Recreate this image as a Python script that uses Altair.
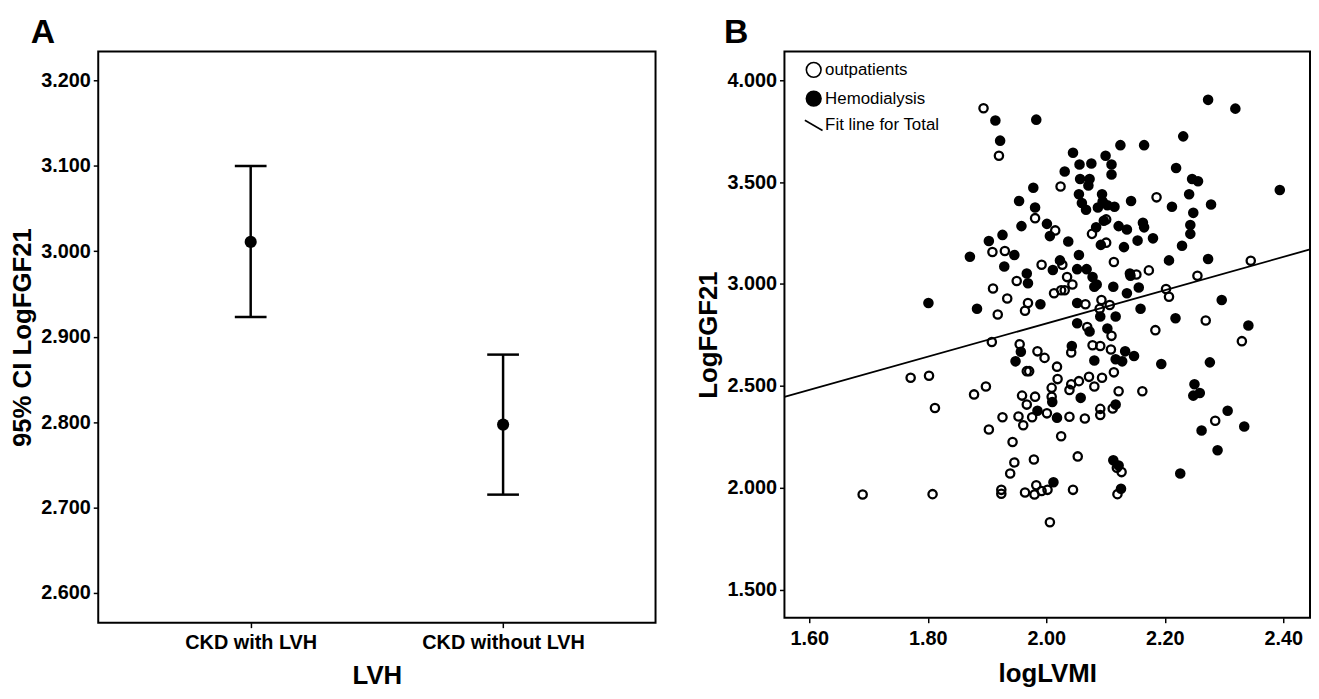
import altair as alt
import pandas as pd

# ---------------- Panel A data ----------------
groups = ["CKD with LVH", "CKD without LVH"]
means = [3.011, 2.797]
ci_low = [2.923, 2.715]
ci_high = [3.100, 2.879]

# ---------------- Panel B data ----------------
out_x = [1.894, 1.920, 2.024, 2.186, 1.981, 2.015, 1.909, 1.930, 2.101, 2.077,
         2.101, 2.114, 2.173, 2.152, 2.255, 2.345, 1.992, 2.027, 2.035, 1.950,
         1.910, 1.934, 2.044, 2.013, 2.025, 2.031, 2.202, 2.207, 1.969, 1.964,
         1.918, 2.066, 2.093, 2.107, 2.090, 2.269, 1.908, 2.069, 2.110, 1.955,
         1.985, 1.997, 2.078, 2.091, 2.109, 2.042, 2.330, 2.184, 1.967, 1.971,
         2.018, 1.771, 1.802, 1.898, 1.878, 2.019, 2.009, 2.072, 2.094, 2.055,
         2.042, 2.039, 2.081, 2.114, 2.122, 2.162, 1.959, 1.981, 1.967, 2.009,
         1.812, 1.926, 1.953, 1.976, 1.961, 2.001, 2.039, 2.065, 2.091, 2.091,
         2.112, 2.285, 1.903, 1.943, 2.025, 2.053, 1.979, 1.946, 1.939, 2.119,
         2.127, 1.690, 1.808, 1.924, 1.924, 1.964, 1.983, 1.980, 1.992, 2.002,
         2.045, 2.120, 2.006]
out_y = [3.862, 3.629, 3.478, 3.425, 3.323, 3.263, 3.157, 3.162, 3.317, 3.246,
         3.203, 3.108, 3.067, 3.047, 3.041, 3.114, 3.095, 3.095, 3.034, 3.015,
         2.978, 2.929, 2.998, 2.955, 2.970, 2.970, 2.976, 2.938, 2.907, 2.869,
         2.851, 2.901, 2.922, 2.897, 2.879, 2.821, 2.716, 2.789, 2.746, 2.705,
         2.670, 2.638, 2.700, 2.696, 2.679, 2.664, 2.720, 2.774, 2.573, 2.573,
         2.595, 2.541, 2.550, 2.498, 2.459, 2.534, 2.491, 2.545, 2.541, 2.524,
         2.509, 2.481, 2.498, 2.567, 2.474, 2.474, 2.453, 2.448, 2.409, 2.448,
         2.392, 2.347, 2.351, 2.347, 2.308, 2.366, 2.349, 2.341, 2.388, 2.358,
         2.390, 2.330, 2.287, 2.226, 2.254, 2.155, 2.140, 2.125, 2.071, 2.099,
         2.078, 1.968, 1.970, 1.991, 1.972, 1.978, 2.013, 1.968, 1.985, 1.991,
         1.991, 1.970, 1.832]

hd_x = [1.914, 1.983, 1.922, 2.273, 2.319, 2.231, 2.125, 2.165, 2.045, 2.076,
        2.100, 2.031, 2.056, 2.110, 2.110, 2.219, 2.057, 2.073, 2.071, 1.978,
        1.954, 1.981, 2.055, 2.060, 2.094, 2.067, 2.087, 2.103, 2.115, 2.095,
        2.143, 2.212, 2.241, 2.246, 2.256, 2.248, 2.278, 2.394, 1.958, 2.001,
        2.006, 2.037, 2.084, 2.097, 2.092, 2.122, 2.136, 2.131, 2.154, 2.180,
        2.163, 2.165, 2.243, 2.243, 2.229, 2.273, 2.207, 1.903, 1.926, 1.871,
        1.946, 1.929, 1.967, 1.969, 2.023, 2.011, 2.055, 2.052, 2.068, 2.078,
        2.085, 2.113, 2.141, 2.142, 2.156, 2.136, 2.081, 1.801, 1.883, 1.990,
        2.052, 2.091, 2.117, 2.159, 2.218, 2.296, 2.341, 2.052, 2.073, 2.103,
        2.043, 1.957, 1.948, 2.081, 2.117, 2.128, 2.133, 2.148, 2.194, 2.276,
        2.250, 2.248, 2.259, 2.010, 2.058, 1.985, 2.018, 2.117, 2.262, 2.306,
        2.334, 2.289, 2.226, 2.113, 2.122, 2.012, 2.126]
hd_y = [3.802, 3.806, 3.703, 3.903, 3.860, 3.724, 3.681, 3.681, 3.644, 3.591,
        3.629, 3.552, 3.586, 3.586, 3.537, 3.569, 3.515, 3.515, 3.483, 3.472,
        3.407, 3.375, 3.440, 3.397, 3.440, 3.364, 3.375, 3.386, 3.379, 3.405,
        3.407, 3.379, 3.440, 3.515, 3.504, 3.349, 3.390, 3.461, 3.284, 3.295,
        3.235, 3.209, 3.278, 3.310, 3.192, 3.284, 3.267, 3.181, 3.213, 3.224,
        3.300, 3.278, 3.289, 3.246, 3.188, 3.123, 3.116, 3.211, 3.241, 3.134,
        3.142, 3.086, 3.052, 3.004, 3.116, 3.069, 3.142, 3.073, 3.073, 3.034,
        2.998, 2.987, 3.052, 3.041, 2.983, 2.955, 2.987, 2.907, 2.879, 2.901,
        2.907, 2.841, 2.841, 2.879, 2.832, 2.922, 2.797, 2.808, 2.767, 2.782,
        2.696, 2.668, 2.621, 2.625, 2.631, 2.621, 2.670, 2.647, 2.608, 2.616,
        2.509, 2.453, 2.466, 2.422, 2.442, 2.379, 2.345, 2.409, 2.282, 2.379,
        2.302, 2.185, 2.071, 2.136, 2.110, 2.028, 1.996]

series_names = ["outpatients", "Hemodialysis", "Fit line for Total"]

FONT = "Liberation Sans"

# ---------------- Panel A ----------------
df_a = pd.DataFrame({"group": groups, "mean": means, "lo": ci_low, "hi": ci_high})

xa = alt.X("group:N", sort=groups, title="LVH",
           scale=alt.Scale(type="point", padding=0.604),
           axis=alt.Axis(labelAngle=0, domain=False, grid=False, ticks=True,
                         tickSize=5, tickColor="black", tickWidth=1.5,
                         labelFontSize=20, labelFontWeight="bold", labelColor="black",
                         labelPadding=5, titleFontSize=26, titleFontWeight="bold",
                         titleColor="black", titlePadding=10))
ya_scale = alt.Scale(domain=[2.565, 3.234], nice=False, zero=False)
ya_axis = alt.Axis(values=[2.6, 2.7, 2.8, 2.9, 3.0, 3.1, 3.2], format=".3f",
                   domain=False, grid=False, tickSize=5, tickColor="black", tickWidth=1.5,
                   labelFontSize=20, labelFontWeight="bold", labelColor="black",
                   labelPadding=3, titleFontSize=26, titleFontWeight="bold",
                   titleColor="black", titlePadding=5)

base_a = alt.Chart(df_a)
rule_a = base_a.mark_rule(color="black", strokeWidth=2.5).encode(
    x=xa, y=alt.Y("lo:Q", scale=ya_scale, axis=ya_axis, title="95% CI LogFGF21"), y2="hi:Q")
cap_lo = base_a.mark_tick(color="black", size=32, thickness=2.5, opacity=1).encode(
    x=alt.X("group:N", sort=groups), y="lo:Q")
cap_hi = base_a.mark_tick(color="black", size=32, thickness=2.5, opacity=1).encode(
    x=alt.X("group:N", sort=groups), y="hi:Q")
pt_a = base_a.mark_circle(color="black", size=150, opacity=1).encode(
    x=alt.X("group:N", sort=groups), y="mean:Q")

panel_a = alt.layer(rule_a, cap_lo, cap_hi, pt_a).properties(
    width=562, height=576,
    title=alt.TitleParams("A", anchor="start", fontSize=34, fontWeight="bold",
                          color="black", dx=21, offset=2))

# ---------------- Panel B ----------------
df_b = pd.concat([
    pd.DataFrame({"x": out_x, "y": out_y, "series": "outpatients"}),
    pd.DataFrame({"x": hd_x, "y": hd_y, "series": "Hemodialysis"}),
], ignore_index=True)

xb_scale = alt.Scale(domain=[1.558, 2.445], nice=False, zero=False)
yb_scale = alt.Scale(domain=[1.364, 4.14], nice=False, zero=False)
xb_axis = alt.Axis(values=[1.6, 1.8, 2.0, 2.2, 2.4], format=".2f", domain=False, grid=False,
                   tickSize=5, tickColor="black", tickWidth=1.5,
                   labelFontSize=20, labelFontWeight="bold", labelColor="black",
                   labelPadding=6, titleFontSize=26, titleFontWeight="bold",
                   titleColor="black", titlePadding=12)
yb_axis = alt.Axis(values=[1.5, 2.0, 2.5, 3.0, 3.5, 4.0], format=".3f", domain=False,
                   grid=False, tickSize=5, tickColor="black", tickWidth=1.5,
                   labelFontSize=20, labelFontWeight="bold", labelColor="black",
                   labelPadding=3, titleFontSize=26, titleFontWeight="bold",
                   titleColor="black", titlePadding=5)

leg = alt.Legend(title=None, orient="none", legendX=21, legendY=10,
                 symbolSize=220, symbolStrokeColor="black", symbolStrokeWidth=1.6,
                 labelFontSize=17, labelFont=FONT, labelColor="black",
                 labelFontWeight="normal", rowPadding=6, labelOffset=3, padding=0)

points_b = alt.Chart(df_b).mark_point(filled=True, strokeWidth=2.3,
                                      size=70, opacity=1).encode(
    x=alt.X("x:Q", scale=xb_scale, axis=xb_axis, title="logLVMI"),
    y=alt.Y("y:Q", scale=yb_scale, axis=yb_axis, title="LogFGF21"),
    fill=alt.Fill("series:N", scale=alt.Scale(domain=series_names,
                                              range=["transparent", "black", "transparent"]),
                  legend=leg),
    stroke=alt.Stroke("series:N", scale=alt.Scale(domain=series_names,
                                                  range=["black", "black", "black"]),
                      legend=leg),
    shape=alt.Shape("series:N", scale=alt.Scale(domain=series_names,
                                                range=["circle", "circle", "M-1.2,-0.7L1.2,0.7"]),
                    legend=leg),
)

fit_b = alt.Chart(df_b).transform_regression(
    "x", "y", extent=[1.558, 2.445]
).mark_line(color="black", strokeWidth=1.8, clip=True).encode(
    x=alt.X("x:Q", scale=xb_scale), y=alt.Y("y:Q", scale=yb_scale))

panel_b = alt.layer(points_b, fit_b).properties(
    width=530, height=571,
    title=alt.TitleParams("B", anchor="start", fontSize=34, fontWeight="bold",
                          color="black", dx=28, offset=2))

chart = alt.hconcat(panel_a, panel_b, spacing=38).resolve_legend(
    fill="independent", stroke="independent", shape="independent"
).properties(
    padding={"left": 0, "top": 4, "right": 0, "bottom": 0}
).configure(font=FONT).configure_view(stroke="black", strokeWidth=2)

chart.save("out.html", embed_options={"renderer": "svg", "actions": False})
